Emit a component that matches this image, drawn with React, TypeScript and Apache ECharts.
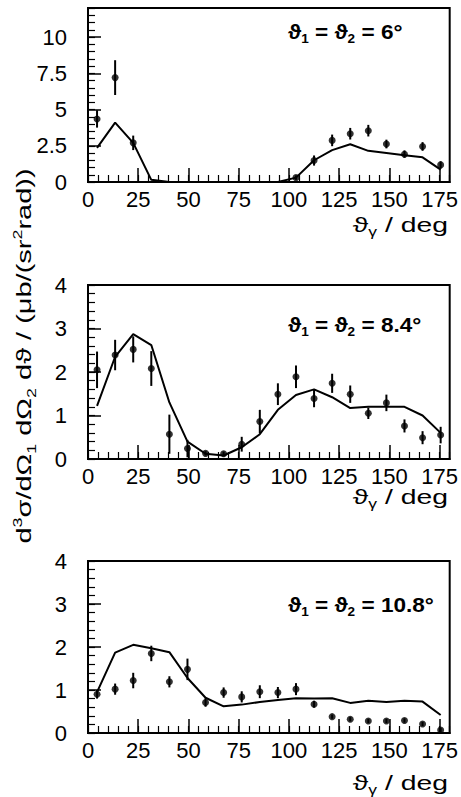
import React, { useEffect, useRef } from 'react';
import * as echarts from 'echarts';

// Photon angle bin centres (deg)
const THETA_GAMMA = [4.5, 13.5, 22.5, 31.5, 40.5, 49.5, 58.5, 67.5, 76.5, 85.5, 94.5, 103.5, 112.5, 121.5, 130.5, 139.5, 148.5, 157.5, 166.5, 175.5];

// Panel 1: theta1 = theta2 = 6 deg
const DATA_6 = [4.35, 7.2, 2.7, null, null, null, null, null, null, null, null, 0.3, 1.48, 2.87, 3.33, 3.54, 2.62, 1.92, 2.45, 1.18];
const ERR_6 = [0.6, 1.2, 0.5, null, null, null, null, null, null, null, null, 0.15, 0.35, 0.4, 0.4, 0.4, 0.3, 0.25, 0.3, 0.25];
const THEORY_6 = [2.35, 4.1, 2.7, 0.15, 0, 0, 0, 0, 0, 0, 0, 0.3, 1.5, 2.2, 2.6, 2.15, 2.0, 1.85, 1.7, 0.85];

// Panel 2: theta1 = theta2 = 8.4 deg
const DATA_84 = [2.05, 2.39, 2.52, 2.08, 0.57, 0.24, 0.13, 0.12, 0.34, 0.86, 1.49, 1.89, 1.39, 1.74, 1.49, 1.05, 1.29, 0.76, 0.49, 0.55];
const ERR_84 = [0.42, 0.35, 0.3, 0.4, 0.45, 0.2, 0.05, 0.05, 0.17, 0.27, 0.25, 0.26, 0.2, 0.22, 0.2, 0.13, 0.19, 0.15, 0.15, 0.19];
const THEORY_84 = [1.22, 2.35, 2.87, 2.62, 1.3, 0.4, 0.12, 0.08, 0.27, 0.57, 1.13, 1.47, 1.6, 1.42, 1.17, 1.2, 1.2, 1.2, 1.0, 0.6];

// Panel 3: theta1 = theta2 = 10.8 deg
const DATA_108 = [0.9, 1.02, 1.22, 1.85, 1.19, 1.48, 0.71, 0.94, 0.84, 0.96, 0.94, 1.02, 0.67, 0.38, 0.32, 0.28, 0.28, 0.29, 0.21, 0.07];
const ERR_108 = [0.1, 0.13, 0.18, 0.18, 0.13, 0.25, 0.1, 0.12, 0.13, 0.15, 0.13, 0.14, 0.08, 0.05, 0.05, 0.05, 0.05, 0.05, 0.05, 0.05];
const THEORY_108 = [0.95, 1.87, 2.05, 1.97, 1.88, 1.28, 0.82, 0.62, 0.66, 0.72, 0.77, 0.81, 0.8, 0.81, 0.7, 0.75, 0.72, 0.75, 0.73, 0.42];

// Axis settings
const X_MIN = 0;
const X_MAX = 180;
const X_MAJOR = 25;
const X_MINOR = 5;
const Y_MAX = [12, 4, 4];
const Y_MAJOR = [2.5, 1, 1];
const Y_MINOR = [0.5, 0.2, 0.2];
const PANEL_LABELS = ['6°', '8.4°', '10.8°'];

const FONT = '"Liberation Sans", "DejaVu Sans", Arial, sans-serif';

export default function App() {
  const ref = useRef<HTMLDivElement>(null);

  useEffect(() => {
    if (!ref.current) return;
    const chart = echarts.init(ref.current, undefined, { renderer: 'svg' });

    const panels = [
      { data: DATA_6, err: ERR_6, theory: THEORY_6 },
      { data: DATA_84, err: ERR_84, theory: THEORY_84 },
      { data: DATA_108, err: ERR_108, theory: THEORY_108 },
    ];
    const grids = [
      { left: 88, top: 8, width: 364, height: 174 },
      { left: 88, top: 285, width: 364, height: 174 },
      { left: 88, top: 561, width: 364, height: 172 },
    ];

    const xAxis: any[] = [];
    const yAxis: any[] = [];
    const series: any[] = [];

    grids.forEach((g, i) => {
      xAxis.push({
        type: 'value', gridIndex: i, position: 'bottom', min: X_MIN, max: X_MAX, interval: X_MAJOR,
        axisLine: { show: true, onZero: false, lineStyle: { color: '#000', width: 2 } },
        axisTick: { show: true, inside: true, length: 14, lineStyle: { color: '#000', width: 1.5 } },
        splitLine: { show: false },
        axisLabel: { color: '#000', fontSize: 22, fontFamily: FONT, margin: 6, showMaxLabel: false },
      });
      xAxis.push({
        type: 'value', gridIndex: i, position: 'bottom', min: X_MIN, max: X_MAX, interval: X_MINOR,
        axisLine: { show: false },
        axisTick: { show: true, inside: true, length: 7, lineStyle: { color: '#000', width: 1.2 } },
        splitLine: { show: false },
        axisLabel: { show: false },
      });
      yAxis.push({
        type: 'value', gridIndex: i, position: 'left', min: 0, max: Y_MAX[i], interval: Y_MAJOR[i],
        axisLine: { show: true, onZero: false, lineStyle: { color: '#000', width: 2 } },
        axisTick: { show: true, inside: true, length: 13, lineStyle: { color: '#000', width: 1.5 } },
        splitLine: { show: false },
        axisLabel: { color: '#000', fontSize: 22, fontFamily: FONT, margin: 21, showMaxLabel: i === 0 ? false : true },
      });
      yAxis.push({
        type: 'value', gridIndex: i, position: 'left', min: 0, max: Y_MAX[i], interval: Y_MINOR[i],
        axisLine: { show: false },
        axisTick: { show: true, inside: true, length: 7, lineStyle: { color: '#000', width: 1.2 } },
        splitLine: { show: false },
        axisLabel: { show: false },
      });

      const p = panels[i];
      const theoryData = THETA_GAMMA.map((x, k) => [x, p.theory[k]]);
      const pts = THETA_GAMMA.map((x, k) => [x, p.data[k], p.err[k]]).filter((d) => d[1] !== null);

      series.push({
        type: 'line', xAxisIndex: 2 * i, yAxisIndex: 2 * i, data: theoryData,
        showSymbol: false, symbol: 'none', lineStyle: { color: '#000', width: 2 }, z: 3,
      });
      series.push({
        type: 'custom', xAxisIndex: 2 * i, yAxisIndex: 2 * i, data: pts,
        encode: { x: 0, y: 1 },
        renderItem: (params: any, api: any) => {
          const x = api.value(0);
          const y = api.value(1);
          const e = api.value(2);
          const a = api.coord([x, Math.max(0, y - e)]);
          const b = api.coord([x, y + e]);
          return {
            type: 'line',
            shape: { x1: a[0], y1: a[1], x2: b[0], y2: b[1] },
            style: { stroke: '#000', lineWidth: 2 },
          };
        },
        z: 4,
      });
      series.push({
        type: 'scatter', xAxisIndex: 2 * i, yAxisIndex: 2 * i, data: pts.map((d) => [d[0], d[1]]),
        symbol: 'circle', symbolSize: 7, itemStyle: { color: '#000' }, z: 5,
      });
    });

    const sub = { fontSize: 12, fontFamily: FONT, fontWeight: 'bold', lineHeight: 12, verticalAlign: 'bottom', fill: '#000' };
    const main = { fontSize: 20, fontFamily: FONT, fontWeight: 'bold', lineHeight: 26, fill: '#000' };
    const annY = [32, 325, 605];

    const graphic: any[] = [];
    PANEL_LABELS.forEach((lab, i) => {
      graphic.push({
        type: 'text', x: 288, y: annY[i], scaleX: 1.13,
        style: {
          text: `{m|ϑ}{s|1}{m| = ϑ}{s|2}{m| = ${lab}}`,
          rich: { m: main, s: sub },
          verticalAlign: 'middle', align: 'left',
        },
      });
    });

    const tMain = { fontSize: 21, fontFamily: FONT, lineHeight: 27, fill: '#000' };
    const tSub = { fontSize: 13, fontFamily: FONT, lineHeight: 13, verticalAlign: 'bottom', fill: '#000' };
    const tSup = { fontSize: 13, fontFamily: FONT, lineHeight: 13, verticalAlign: 'top', fill: '#000' };
    const titleY = [224, 496, 782];
    titleY.forEach((y) => {
      graphic.push({
        type: 'text', x: 448, y, scaleX: 1.35,
        style: {
          text: '{m|ϑ}{s|γ}{m| / deg}',
          rich: { m: tMain, s: tSub },
          verticalAlign: 'middle', align: 'right',
        },
      });
    });

    graphic.push({
      type: 'text', x: 24, y: 356, rotation: Math.PI / 2, scaleX: 1.38,
      style: {
        text: '{m|d}{p|3}{m|σ/dΩ}{s|1}{m| dΩ}{s|2}{m| dϑ / (μb/(sr}{p|2}{m|rad))}',
        rich: { m: tMain, s: tSub, p: tSup },
        verticalAlign: 'middle', align: 'center',
      },
    });

    chart.setOption({
      animation: false,
      backgroundColor: '#fff',
      grid: grids.map((g) => ({ ...g, show: true, borderColor: '#000', borderWidth: 2, backgroundColor: 'transparent' })),
      xAxis,
      yAxis,
      series,
      graphic,
    });

    return () => chart.dispose();
  }, []);

  return <div ref={ref} style={{ position: 'fixed', left: 0, top: 0, width: 461, height: 797, background: '#fff' }} />;
}
